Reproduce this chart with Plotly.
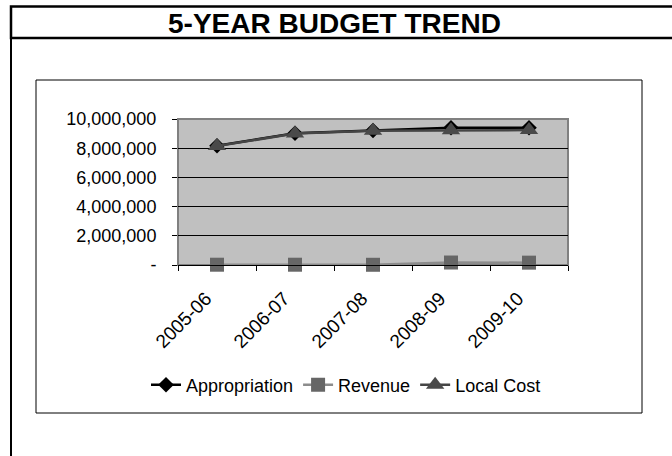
import plotly.graph_objects as go

# ---- data ----
years = ["2005-06", "2006-07", "2007-08", "2008-09", "2009-10"]
appropriation = [8170000, 9020000, 9210000, 9400000, 9400000]
revenue = [20000, 20000, 15000, 170000, 160000]
local_cost = [8150000, 9000000, 9190000, 9230000, 9240000]
y_tick_vals = [0, 2000000, 4000000, 6000000, 8000000, 10000000]
y_tick_text = ["-", "2,000,000", "4,000,000", "6,000,000", "8,000,000", "10,000,000"]
title_text = "5-YEAR BUDGET TREND"

W, H = 672, 456
L, R, T, B = 178, 568, 119, 265  # plot area in pixels


def px(x):
    return (x - L) / (R - L)


def py(y):
    return 1 - (y - T) / (B - T)


FONT = "Liberation Sans, Arial, sans-serif"

fig = go.Figure()
fig.add_trace(go.Scatter(
    x=years, y=appropriation, name="Appropriation", mode="lines+markers",
    line=dict(color="#000000", width=2.5), cliponaxis=False,
    marker=dict(symbol="diamond", size=12, color="#000000"),
))
fig.add_trace(go.Scatter(
    x=years, y=revenue, name="Revenue", mode="lines+markers",
    line=dict(color="#8c8c8c", width=2.5), cliponaxis=False,
    marker=dict(symbol="square", size=14, color="#666666"),
))
fig.add_trace(go.Scatter(
    x=years, y=local_cost, name="Local Cost", mode="lines+markers",
    line=dict(color="#454545", width=2.5), cliponaxis=False,
    marker=dict(symbol="triangle-up", size=16, color="#4a4a4a"),
))


def hline(y, x0, x1, w=2):
    return dict(type="line", xref="paper", yref="paper", x0=px(x0), x1=px(x1), y0=py(y), y1=py(y),
                line=dict(color="#000000", width=w), layer="above")


def vline(x, y0, y1, w=2):
    return dict(type="line", xref="paper", yref="paper", x0=px(x), x1=px(x), y0=py(y0), y1=py(y1),
                line=dict(color="#000000", width=w), layer="above")


shapes = [
    # plot area border
    dict(type="rect", xref="paper", yref="paper", x0=0, y0=0, x1=1, y1=1,
         line=dict(color="#808080", width=2), layer="below"),
    # inner chart box
    hline(80, 36, 642, 1), hline(413, 36, 642, 1), vline(36, 80, 413, 1), vline(642, 80, 413, 1),
    # outer frame + title band
    dict(type="rect", xref="paper", yref="paper", x0=px(11), x1=px(690), y0=py(38), y1=py(6.5),
         line=dict(color="#000000", width=2.5), layer="above"),
    vline(11, 6, 456),
]

fig.update_layout(
    width=W, height=H,
    margin=dict(l=L, r=W - R, t=T, b=H - B, pad=0),
    paper_bgcolor="#ffffff",
    plot_bgcolor="#c0c0c0",
    font=dict(family=FONT, size=18, color="#000000"),
    showlegend=True,
    legend=dict(orientation="h", x=px(146), xanchor="left", y=py(385), yanchor="middle",
                font=dict(size=18), bgcolor="rgba(0,0,0,0)"),
    shapes=shapes,
    annotations=[dict(text="<b>" + title_text + "</b>", xref="paper", yref="paper",
                      x=px(334), y=py(23), showarrow=False,
                      font=dict(family=FONT, size=28, color="#000000"),
                      xanchor="center", yanchor="middle")],
)
fig.update_xaxes(
    type="category", showgrid=False, showline=True, linecolor="#000000", linewidth=1,
    ticks="outside", tickson="boundaries", ticklen=5, tickcolor="#000000",
    tickangle=-45, tickfont=dict(size=19), range=[-0.5, 4.5],
    ticklabelstandoff=14, ticklabelshift=-11,
)
fig.update_yaxes(
    range=[0, 10000000], tickvals=y_tick_vals, ticktext=y_tick_text,
    showgrid=True, gridcolor="#000000", gridwidth=1, zeroline=False,
    showline=False, ticks="outside", ticklen=5, tickcolor="#000000",
    tickfont=dict(size=18), ticklabelstandoff=12,
)

fig.write_html("out.html", config={"displayModeBar": False},
               post_script="document.body.style.margin='0';")
